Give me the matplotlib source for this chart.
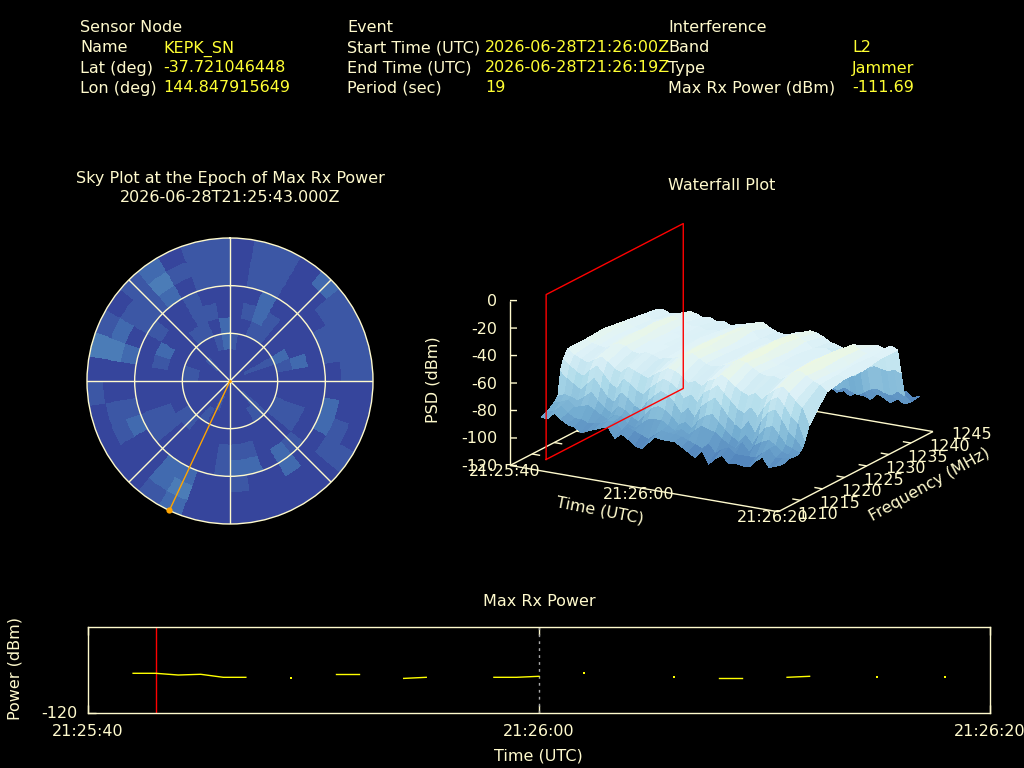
import numpy as np
import matplotlib
matplotlib.use("Agg")
import matplotlib.pyplot as plt
from matplotlib.colors import LinearSegmentedColormap, Normalize
from mpl_toolkits.mplot3d import proj3d

PALE = "#fffacd"
YEL = "#ffff33"
FS = 11.5
plt.rcParams["font.family"] = "DejaVu Sans"

# ---------- header text ----------
col1_labels = ["Sensor Node", "Name", "Lat (deg)", "Lon (deg)"]
col1_values = ["", "KEPK_SN", "-37.721046448", "144.847915649"]
col2_labels = ["Event", "Start Time (UTC)", "End Time (UTC)", "Period (sec)"]
col2_values = ["", "2026-06-28T21:26:00Z", "2026-06-28T21:26:19Z", "19"]
col3_labels = ["Interference", "Band", "Type", "Max Rx Power (dBm)"]
col3_values = ["", "L2", "Jammer", "-111.69"]

# ---------- sky plot data: levels, one string per ring (centre outwards), 10 deg az bins ----------
sky_rings = [
    "000000 000000 000000 000000 000000 000000",
    "000000 100000 010000 001000 000000 010000",
    "100000 100000 011000 000100 000110 000012",
    "001100 210001 100000 000011 000000 001102",
    "012100 020001 100011 100001 100012 000110",
    "002000 000000 012022 100001 100000 100100",
    "011000 110022 002001 002200 210020 112011",
    "011001 111001 100000 003200 110032 113111",
    "011021 111000 100000 002100 001031 012011",
]
sat_az = [205.1]
sat_el = [0.0]

# ---------- waterfall data ----------
wf_times = [2, 3, 4, 5, 6, 7, 8, 9, 10, 11, 12, 13, 14, 15, 16, 17, 18, 19, 20, 21,
            22, 23, 24, 25, 26, 27, 28, 29, 30, 31, 32, 33, 34, 35, 36, 37, 38]
wf_freqs = [1214, 1215.5, 1217, 1217.8, 1218.4, 1219, 1220, 1224, 1228, 1232, 1236,
            1240, 1240.8, 1241.6, 1243, 1245]
psd_rows = [
 [-90,-90,-85,-89,-92,-93,-96,-94,-92,-90,
  -89,-96,-92,-95,-99,-100,-95,-90,-91,-91,
  -91,-94,-97,-100,-94,-103,-98,-95,-100,-99,
  -100,-100,-95,-91,-98,-96,-94],
 [-88,-87,-83,-87,-90,-90,-92,-91,-90,-88,
  -87,-93,-90,-92,-94,-96,-92,-88,-89,-89,
  -90,-92,-94,-96,-92,-98,-94,-92,-96,-96,
  -96,-96,-92,-88,-94,-93,-92],
 [-84,-83,-81,-85,-84,-82,-85,-88,-90,-86,
  -86,-91,-93,-89,-85,-84,-84,-87,-90,-88,
  -91,-87,-83,-85,-86,-90,-93,-95,-90,-96,
  -90,-87,-85,-88,-92,-93,-93],
 [-81,-79,-80,-82,-78,-74,-80,-84,-87,-81,
  -83,-87,-90,-84,-78,-76,-78,-82,-87,-84,
  -88,-81,-77,-75,-80,-85,-89,-92,-86,-92,
  -84,-78,-76,-82,-88,-90,-92],
 [-63,-68,-72,-75,-70,-65,-71,-77,-80,-72,
  -75,-80,-82,-75,-70,-66,-68,-73,-80,-75,
  -81,-72,-68,-64,-70,-76,-81,-84,-77,-85,
  -75,-68,-65,-72,-80,-84,-90],
 [-56,-60,-64,-66,-61,-57,-62,-68,-71,-63,
  -66,-70,-72,-66,-62,-58,-60,-64,-70,-66,
  -71,-63,-60,-56,-61,-66,-71,-73,-68,-74,
  -66,-60,-57,-63,-70,-74,-86],
 [-50,-54,-56,-58,-55,-52,-55,-59,-61,-56,
  -58,-60,-62,-58,-55,-52,-53,-56,-60,-58,
  -61,-56,-54,-50,-53,-57,-60,-62,-59,-63,
  -58,-54,-51,-55,-60,-64,-76],
 [-50,-52,-53,-54,-51,-49,-50,-53,-54,-52,
  -53,-55,-54,-53,-51,-48,-47,-50,-53,-54,
  -53,-51,-49,-46,-47,-50,-53,-54,-53,-55,
  -52,-48,-46,-49,-52,-54,-58],
 [-49,-51,-52,-52,-50,-48,-50,-52,-53,-53,
  -54,-54,-53,-52,-50,-47,-48,-51,-53,-55,
  -54,-52,-48,-46,-48,-51,-54,-53,-54,-54,
  -51,-47,-46,-50,-53,-53,-55],
 [-51,-50,-53,-54,-51,-47,-49,-53,-52,-54,
  -53,-55,-52,-53,-51,-48,-47,-52,-54,-54,
  -53,-51,-49,-45,-47,-52,-53,-55,-55,-53,
  -52,-48,-45,-49,-54,-52,-56],
 [-53,-52,-54,-53,-52,-49,-50,-52,-54,-53,
  -55,-54,-54,-52,-52,-49,-49,-50,-55,-53,
  -55,-52,-50,-47,-49,-51,-55,-54,-53,-56,
  -53,-50,-47,-50,-52,-53,-54],
 [-55,-54,-56,-55,-54,-52,-53,-55,-54,-56,
  -55,-57,-56,-55,-53,-52,-51,-54,-56,-57,
  -56,-54,-53,-51,-52,-54,-57,-58,-60,-62,
  -60,-56,-54,-53,-55,-52,-54],
 [-68,-70,-72,-71,-69,-68,-70,-72,-73,-72,
  -74,-73,-75,-72,-70,-69,-71,-73,-74,-75,
  -73,-72,-70,-68,-71,-73,-75,-76,-78,-80,
  -76,-72,-70,-71,-72,-70,-72],
 [-86,-88,-90,-87,-85,-88,-90,-89,-91,-88,
  -90,-92,-89,-88,-91,-87,-89,-91,-92,-90,
  -89,-91,-88,-86,-90,-92,-94,-91,-93,-95,
  -92,-89,-88,-90,-91,-87,-90],
 [-95,-97,-94,-96,-98,-95,-97,-99,-96,-94,
  -97,-99,-96,-98,-95,-97,-99,-96,-94,-98,
  -96,-99,-97,-94,-96,-99,-97,-100,-96,-98,
  -100,-95,-97,-100,-96,-99,-97],
 [-97,-95,-98,-96,-94,-97,-99,-96,-98,-95,
  -94,-97,-99,-95,-97,-96,-98,-95,-97,-99,
  -95,-97,-94,-98,-96,-95,-99,-97,-95,-98,
  -96,-99,-95,-97,-94,-98,-96],
]
plane_time = [2.75, 2.75, 2.75, 2.75, 2.75]
plane_freq = [1214, 1214, 1245, 1245, 1214]
plane_psd = [-120, 0, 0, -120, -120]
z_ticks = [0, -20, -40, -60, -80, -100, -120]
f_ticks = [1210, 1215, 1220, 1225, 1230, 1235, 1240, 1245]
t_ticks = [0, 20, 40]
t_labels = ["21:25:40", "21:26:00", "21:26:20"]

# ---------- max rx power data ----------
pw_time = [2, 3, 4, 5, 6, 7, 9, 11, 12, 14, 15, 18, 19, 20, 22, 26, 28, 29, 31, 32, 35, 38]
pw_dbm = [-111.69, -111.69, -112.05, -111.9, -112.53, -112.53, -112.76, -111.9, -111.9,
          -112.76, -112.53, -112.53, -112.53, -112.32, -111.69, -112.53, -112.76, -112.76,
          -112.53, -112.32, -112.53, -112.53]
max_time = [3]
epoch_time = [20]

palette = LinearSegmentedColormap.from_list(
    "rdylbu", ["#313695", "#4575b4", "#74add1", "#abd9e9", "#e0f3f8", "#ffffbf"])

fig = plt.figure(figsize=(10.24, 7.68), dpi=100, facecolor="black")


def fx(x):
    return x / 1024


def fy(y):
    return 1 - y / 768


def put(x, y, s, color=PALE, ha="left", va="center", size=FS, **kw):
    fig.text(fx(x), fy(y), s, color=color, ha=ha, va=va, fontsize=size, **kw)


def line(x, y, s, color=PALE, ha="left"):
    # text whose vertical middle of capitals sits at y: anchored on its baseline
    put(x, y + 5.5, s, color=color, ha=ha, va="baseline")


# header
row_y = [27, 47, 67, 87]
for lx, vx, labs, vals in [(80, 163, col1_labels, col1_values),
                           (347, 485, col2_labels, col2_values),
                           (668, 852, col3_labels, col3_values)]:
    for y, l, v in zip(row_y, labs, vals):
        line(lx, y, l)
        if v:
            line(vx, y, v, color=YEL)

line(230, 178, "Sky Plot at the Epoch of Max Rx Power", ha="center")
line(230, 196, "2026-06-28T21:25:43.000Z", ha="center")
line(722, 185, "Waterfall Plot", ha="center")
line(539, 600, "Max Rx Power", ha="center")

# ---------- sky plot ----------
ax = fig.add_axes([fx(87), fy(524), 286 / 1024, 286 / 768], projection="polar", facecolor="black")
ax.set_theta_zero_location("N")
ax.set_theta_direction(-1)
levels = np.array([[int(c) for c in r.replace(" ", "")] for r in sky_rings], dtype=float)
fine = np.repeat(np.repeat(levels, 5, axis=0), 5, axis=1)
theta_edges = np.deg2rad(np.arange(fine.shape[1] + 1) * 2.0)
r_edges = np.arange(fine.shape[0] + 1) * 2.0
ax.pcolormesh(theta_edges, r_edges, fine, cmap=palette, vmin=-0.8, vmax=16,
              shading="flat", antialiased=False)
ax.set_ylim(0, 90)
ax.set_rticks([30, 60])
ax.set_yticklabels([])
ax.set_thetagrids(range(0, 360, 45), labels=[""] * 8)
ax.grid(True, color=PALE, lw=1.0, alpha=1)
ax.spines["polar"].set_color(PALE)
ax.spines["polar"].set_linewidth(1.0)
for az, el in zip(sat_az, sat_el):
    ax.plot([np.deg2rad(az), np.deg2rad(az)], [0, 90 - el], color="#ffa500", lw=1.0, zorder=5, clip_on=False)
    ax.plot([np.deg2rad(az)], [90 - el], "o", color="#ffa500", ms=4.5, mew=0, zorder=6, clip_on=False)
ax.plot([0], [0], "o", color="#ffa500", ms=2, mew=0, zorder=6)

# ---------- waterfall ----------
T0, T1, F0, F1, Z0, Z1 = 0, 40, 1210, 1245, -120, 0
ax3 = fig.add_axes([0.3, 0.2, 0.5, 0.5], projection="3d", computed_zorder=False)
ax3.set_facecolor("none")
ax3.set_proj_type("ortho")
ax3.view_init(elev=17.4, azim=-60)
ax3.set_box_aspect((1, 1, 0.558))
ax3.set_xlim(T0, T1)
ax3.set_ylim(F0, F1)
ax3.set_zlim(Z0, Z1)
ax3.set_axis_off()


def project(t, f, z):
    M = ax3.get_proj()
    X, Y, _ = proj3d.proj_transform(t, f, z, M)
    return ax3.transData.transform((X, Y))


target_A = np.array([510.0, 768 - 466.0])
target_C = np.array([933.0, 768 - 431.0])
side = 500.0
cx, cy = 720.0, 768 - 380.0
for _ in range(3):
    ax3.set_position([(cx - side / 2) / 1024, (cy - side / 2) / 768, side / 1024, side / 768])
    fig.canvas.draw()
    A = project(T0, F0, Z0)
    C = project(T1, F1, Z0)
    side *= (target_C[0] - target_A[0]) / (C[0] - A[0])
    cx += ((target_A + target_C) / 2 - (A + C) / 2)[0]
    cy += ((target_A + target_C) / 2 - (A + C) / 2)[1]
ax3.set_position([(cx - side / 2) / 1024, (cy - side / 2) / 768, side / 1024, side / 768])
fig.canvas.draw()

axis_kw = dict(color=PALE, lw=1.0, solid_capstyle="butt")
ax3.plot([T0, T0], [F1, F0], [Z0, Z0], zorder=1, **axis_kw)
ax3.plot([T0, T1], [F1, F1], [Z0, Z0], zorder=1, **axis_kw)
ax3.plot([T1, T1], [F0, F1], [Z0, Z0], zorder=3, **axis_kw)
ax3.plot([T0, T1], [F0, F0], [Z0, Z0], zorder=3, **axis_kw)
ax3.plot([T0, T0], [F0, F0], [Z0, Z1], zorder=3, **axis_kw)
for z in z_ticks:
    ax3.plot([T0, T0 + 0.79], [F0, F0 + 0.39], [z, z], zorder=3, **axis_kw)
for f in f_ticks[1:-1]:
    ax3.plot([T1 - 1.2, T1], [f, f], [Z0, Z0], zorder=3, **axis_kw)
    ax3.plot([T0, T0 + 1.2], [f, f], [Z0, Z0], zorder=1, **axis_kw)

tg, fg = np.meshgrid(np.array(wf_times, float), np.array(wf_freqs, float))
ax3.plot_surface(tg, fg, np.array(psd_rows, float), rstride=1, cstride=1, cmap=palette,
                 norm=Normalize(-120, -36), linewidth=0, antialiased=False, shade=False, zorder=2)
ax3.plot(plane_time, plane_freq, plane_psd, color="#ff0000", lw=1.0, zorder=4)

for z in z_ticks:
    p = project(T0, F0, z)
    line(p[0] - 13, 768 - p[1], str(z), ha="right")
for t, lab in zip(t_ticks, t_labels):
    p = project(t, F0, Z0)
    line(p[0] - 5, 768 - p[1] + 5, lab, ha="center")
for f in f_ticks:
    p = project(T1, f, Z0)
    line(p[0] + 39, 768 - p[1] + 2, str(f), ha="center")
put(433, 380, "PSD (dBm)", ha="center", rotation=90)
put(600, 511, "Time (UTC)", ha="center", rotation=-11, rotation_mode="anchor")
put(930, 485, "Frequency (MHz)", ha="center", rotation=29, rotation_mode="anchor")

# ---------- max rx power ----------
axp = fig.add_axes([fx(88), fy(713), 902 / 1024, 86 / 768], facecolor="black")
axp.set_xlim(T0, T1)
axp.set_ylim(-120, -102)
for s in axp.spines.values():
    s.set_color(PALE)
    s.set_linewidth(1.0)
axp.set_xticks(t_ticks)
axp.set_xticklabels([])
axp.set_yticks([-120])
axp.set_yticklabels([])
axp.tick_params(direction="in", length=6, color=PALE, top=True, width=1)
for t in epoch_time:
    axp.axvline(t, color="#aaaaaa", lw=1, ls=(0, (2, 3)))
for t in max_time:
    axp.axvline(t, color="#ff0000", lw=1.0)
seg_t, seg_v = [], []
for i, (t, v) in enumerate(zip(pw_time, pw_dbm)):
    if i and t - pw_time[i - 1] > 1:
        axp.plot(seg_t, seg_v, color="#ffff00", lw=1.0, marker="s" if len(seg_t) == 1 else None, ms=1.6, mew=0)
        seg_t, seg_v = [], []
    seg_t.append(t)
    seg_v.append(v)
axp.plot(seg_t, seg_v, color="#ffff00", lw=1.0, marker="s" if len(seg_t) == 1 else None, ms=1.6, mew=0)

for t, lab in zip(t_ticks, t_labels):
    line(88 + t * 22.55, 730, lab, ha="center")
line(538, 755, "Time (UTC)", ha="center")
put(15, 669, "Power (dBm)", ha="center", rotation=90)
line(59, 712, "-120", ha="center")

fig.savefig("out.png", dpi=100, facecolor="black")
